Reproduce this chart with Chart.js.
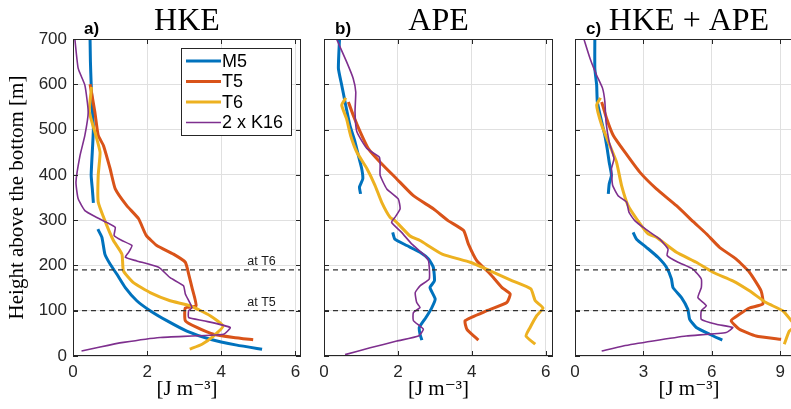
<!DOCTYPE html>
<html>
<head>
<meta charset="utf-8">
<script src="https://cdn.jsdelivr.net/npm/chart.js@4.4.1/dist/chart.umd.min.js"></script>
<style>
  body { margin: 0; background: #fff; overflow: hidden; }
  #wrap { position: relative; width: 791px; height: 409px; overflow: hidden; background: #fff; }
  #wrap canvas { position: absolute; top: 0; }
</style>
</head>
<body>
<div id="wrap">
  <canvas id="hke" width="310" height="409" style="left:0px"></canvas>
  <canvas id="ape" width="250" height="409" style="left:310px"></canvas>
  <canvas id="tot" width="260" height="409" style="left:560px"></canvas>
</div>
<script>
// profiles: [energy J m^-3, height above bottom m], null = gap in the record
const seriesNames = ['M5', 'T5', 'T6', '2 x K16'];
const seriesColors = ['#0072BD', '#D95319', '#EDB120', '#7E2F8E'];
const seriesWidths = [3, 3, 3, 1.6];

const markDepths = [100, 190];
const markNames = ['at T5', 'at T6'];

const yTicks = [0, 100, 200, 300, 400, 500, 600, 700];

// a) HKE
const hkeM5 = [[0.46,700],[0.47,650],[0.49,600],[0.52,550],[0.55,503],[0.53,465],[0.49,399],[0.52,370],[0.55,338], null,
  [0.67,280],[0.78,262],[0.86,225],[1.0,203],[1.18,181],[1.41,151],[1.72,122],[2.08,100],[2.53,78],[3.07,55],[3.70,37],[4.42,24],[5.10,15]];
const hkeT5 = [[0.46,600],[0.59,539],[0.68,487],[0.82,465],[1.0,414],[1.14,369],[1.45,332],[1.77,303],[1.97,267],[2.26,244],
  [2.71,225],[3.03,207],[3.12,181],[3.21,151],[3.32,111],[3.03,106],[3.03,78],[3.34,63],[3.79,48],[4.33,41],[4.86,36]];
const hkeT6 = [[0.50,594],[0.44,539],[0.59,495],[0.73,450],[0.68,399],[0.68,340],[0.86,299],[1.09,255],[1.32,225],[1.36,188],
  [1.63,162],[2.08,140],[2.62,122],[3.16,111],[3.70,89],[4.05,66],[3.79,44],[3.48,26],[3.15,15]];
const hkeK16 = [[0.05,700],[0.14,635],[0.32,598],[0.41,539],[0.32,487],[0.19,443],[0.08,384],[0.14,347],[0.32,321],[0.64,306],
  [0.91,295],[1.14,284],[1.11,266],[1.32,255],[1.59,244],[1.50,229],[1.41,218],[1.72,210],[2.31,196],[2.62,173],[2.98,155],
  [3.03,137],[3.21,107],[3.12,100],[3.12,85],[3.52,78],[4.24,63],[4.06,48],[2.35,41],[1.36,30],[0.73,20],[0.23,11]];

// b) APE
const apeM5 = [[0.42,700],[0.39,635],[0.48,598],[0.57,561],[0.70,510],[0.84,473],[0.93,443],[1.02,414],[1.05,391],[0.96,373],[0.99,358], null,
  [1.86,273],[1.92,258],[2.24,244],[2.60,229],[2.83,214],[2.96,196],[2.99,166],[2.87,151],[3.01,126],[2.92,107],[2.76,85],[2.58,63],[2.60,48],[2.65,35]];
const apeT5 = [[0.66,561],[0.79,532],[0.98,495],[1.20,458],[1.52,428],[1.97,391],[2.42,354],[2.96,325],[3.36,299],[3.78,277],
  [3.91,247],[4.14,210],[4.50,181],[4.82,151],[5.04,137],[4.95,118],[4.41,100],[3.82,78],[3.87,59],[4.18,35]];
const apeT6 = [[0.59,570],[0.48,554],[0.61,524],[0.72,487],[0.89,450],[1.16,414],[1.38,377],[1.56,340],[1.79,306],[1.92,299],
  [2.33,265],[2.60,255],[3.20,225],[3.96,207],[4.50,188],[5.10,166],[5.60,148],[5.72,122],[5.93,106],[5.76,89],[5.58,63],[5.47,44],[5.72,26]];
const apeK16 = [[0.34,700],[0.61,650],[0.79,613],[0.86,583],[0.84,539],[0.89,495],[1.16,458],[1.50,439],[1.52,421],[1.52,399],
  [1.70,369],[2.01,347],[2.06,325],[1.92,306],[1.83,295],[2.10,273],[2.38,247],[2.69,225],[2.83,210],[2.85,170],[2.60,155],
  [2.47,140],[2.51,118],[2.60,107],[2.42,96],[2.42,78],[2.69,59],[2.56,44],[1.97,33],[1.25,18],[0.57,3]];

// c) HKE + APE
const totM5 = [[0.87,700],[0.87,635],[0.95,598],[0.98,561],[1.17,517],[1.31,487],[1.41,458],[1.50,428],[1.60,399],[1.50,380],[1.46,358], null,
  [2.55,273],[2.70,258],[3.13,240],[3.64,218],[4.01,196],[4.23,170],[4.30,151],[4.67,129],[4.95,103],[5.03,81],[5.32,63],[5.90,48],[6.46,35]];
const totT5 = [[1.17,561],[1.39,524],[1.68,487],[2.19,450],[2.84,406],[3.57,369],[4.45,332],[5.20,296],[5.76,270],[6.34,240],
  [7.07,214],[7.65,185],[8.16,144],[8.24,115],[7.65,106],[7.21,92],[6.85,78],[7.21,59],[7.94,44],[9.04,37]];
const totT6 = [[1.12,570],[0.95,554],[1.17,510],[1.46,473],[1.82,428],[2.04,377],[2.33,332],[2.70,303],[3.20,270],[3.57,262],
  [4.45,229],[5.32,207],[6.05,185],[6.92,166],[7.65,144],[8.38,118],[9.11,100],[9.44,81],[9.65,66],[9.40,55],[9.18,26]];
const totK16 = [[0.39,700],[0.66,657],[0.95,620],[1.21,591],[1.31,561],[1.36,517],[1.50,473],[1.71,436],[1.60,414],[1.65,377],
  [1.89,354],[2.26,340],[2.37,317],[2.62,299],[3.10,280],[3.72,258],[4.08,236],[4.04,222],[4.52,207],[5.17,192],[5.54,170],
  [5.54,151],[5.39,129],[5.76,111],[5.54,100],[5.54,81],[6.20,70],[6.92,63],[6.63,52],[4.88,44],[3.42,33],[2.11,22],[1.17,11]];

const axisColor = '#262626';
const gridColor = '#e0e0e0';

function toPoints(arr) {
  return arr.map(p => p ? { x: p[0], y: p[1] } : { x: null, y: null });
}

// box, inward ticks, title, panel letter, legend and depth labels
const panelDecor = {
  id: 'panelDecor',
  afterDraw(chart, args, opts) {
    const ctx = chart.ctx;
    const a = chart.chartArea;
    const xs = chart.scales.x, ys = chart.scales.y;
    ctx.save();
    ctx.strokeStyle = axisColor;
    ctx.lineWidth = 1;
    ctx.strokeRect(a.left + 0.5, a.top + 0.5, a.right - a.left - 1, a.bottom - a.top - 1);
    ctx.beginPath();
    xs.ticks.forEach(t => {
      const px = Math.round(xs.getPixelForValue(t.value)) + 0.5;
      ctx.moveTo(px, a.bottom); ctx.lineTo(px, a.bottom - 5);
      ctx.moveTo(px, a.top); ctx.lineTo(px, a.top + 5);
    });
    ys.ticks.forEach(t => {
      const py = Math.round(ys.getPixelForValue(t.value)) + 0.5;
      ctx.moveTo(a.left, py); ctx.lineTo(a.left + 5, py);
      ctx.moveTo(a.right, py); ctx.lineTo(a.right - 5, py);
    });
    ctx.stroke();

    // title
    ctx.fillStyle = '#000';
    ctx.font = '32px "Liberation Serif", "DejaVu Serif", serif';
    ctx.textAlign = 'center';
    ctx.textBaseline = 'alphabetic';
    ctx.fillText(opts.title, (a.left + a.right) / 2, 30);

    // panel letter
    ctx.font = 'bold 17px "Liberation Sans", Arial, sans-serif';
    ctx.textAlign = 'left';
    ctx.fillText(opts.tag, a.left + 11, 34);

    if (opts.marks) {
      ctx.font = '12.5px "Liberation Sans", Arial, sans-serif';
      ctx.fillStyle = '#1a1a1a';
      markDepths.forEach((d, i) => {
        ctx.fillText(markNames[i], xs.getPixelForValue(4.7), ys.getPixelForValue(d) - 5);
      });
    }

    if (opts.legend) {
      const bx = a.right - 120, by = a.top + 9, bw = 110, bh = 87;
      ctx.fillStyle = '#fff';
      ctx.fillRect(bx, by, bw, bh);
      ctx.strokeStyle = axisColor;
      ctx.strokeRect(bx + 0.5, by + 0.5, bw, bh);
      ctx.font = '18px "Liberation Sans", Arial, sans-serif';
      ctx.textBaseline = 'middle';
      seriesNames.forEach((name, i) => {
        const ly = by + 13 + i * 20.5;
        ctx.strokeStyle = seriesColors[i];
        ctx.lineWidth = seriesWidths[i];
        ctx.beginPath();
        ctx.moveTo(bx + 5, ly); ctx.lineTo(bx + 40, ly);
        ctx.stroke();
        ctx.fillStyle = '#000';
        ctx.fillText(name, bx + 41, ly + 1);
      });
    }
    ctx.restore();
  }
};

function makePanel(id, profiles, cfg) {
  const datasets = profiles.map((prof, i) => ({
    label: seriesNames[i],
    data: toPoints(prof),
    borderColor: seriesColors[i],
    backgroundColor: seriesColors[i],
    borderWidth: seriesWidths[i],
    showLine: true,
    pointRadius: 0,
    tension: 0.15,
    spanGaps: false,
    order: 4 - i
  }));
  markDepths.forEach(d => {
    datasets.push({
      label: 'depth ' + d,
      data: [{ x: 0, y: d }, { x: cfg.xMax, y: d }],
      borderColor: '#333',
      borderWidth: 1.2,
      borderDash: [5, 4],
      showLine: true,
      pointRadius: 0,
      order: 0
    });
  });

  const ctx = document.getElementById(id).getContext('2d');
  return new Chart(ctx, {
    type: 'scatter',
    data: { datasets },
    plugins: [panelDecor],
    options: {
      responsive: false,
      animation: false,
      layout: { padding: { top: 39, right: cfg.padRight, bottom: 0, left: 0 } },
      plugins: {
        legend: { display: false },
        tooltip: { enabled: false },
        panelDecor: { title: cfg.title, tag: cfg.tag, legend: cfg.legend, marks: cfg.marks }
      },
      scales: {
        x: {
          type: 'linear',
          min: 0,
          max: cfg.xMax,
          ticks: {
            stepSize: cfg.xStep,
            includeBounds: false,
            padding: 6,
            maxRotation: 0,
            color: axisColor,
            font: { family: '"Liberation Sans", Arial, sans-serif', size: 17 }
          },
          grid: { color: gridColor, drawTicks: false },
          border: { display: false },
          title: {
            display: true,
            text: '[J m\u207B\u00B3]',
            color: '#000',
            font: { family: '"Liberation Serif", "DejaVu Serif", serif', size: 21 },
            padding: { top: 0, bottom: 7 }
          },
          afterFit: s => { s.height = 53; }
        },
        y: {
          type: 'linear',
          min: 0,
          max: 700,
          afterBuildTicks: s => { s.ticks = yTicks.map(v => ({ value: v })); },
          ticks: {
            display: cfg.yLabels,
            padding: 6,
            color: axisColor,
            font: { family: '"Liberation Sans", Arial, sans-serif', size: 17 }
          },
          grid: { color: gridColor, drawTicks: false },
          border: { display: false },
          title: {
            display: cfg.yLabels,
            text: 'Height above the bottom [m]',
            color: '#000',
            font: { family: '"Liberation Serif", "DejaVu Serif", serif', size: 21 },
            padding: { top: 5, bottom: 0 }
          },
          afterFit: s => { s.width = cfg.yWidth; }
        }
      }
    }
  });
}

makePanel('hke', [hkeM5, hkeT5, hkeT6, hkeK16],
  { xMax: 6.15, xStep: 2, title: 'HKE', tag: 'a)', legend: true, marks: true, yLabels: true, yWidth: 73, padRight: 9 });
makePanel('ape', [apeM5, apeT5, apeT6, apeK16],
  { xMax: 6.2, xStep: 2, title: 'APE', tag: 'b)', legend: false, marks: false, yLabels: false, yWidth: 14, padRight: 7 });
makePanel('tot', [totM5, totT5, totT6, totK16],
  { xMax: 10, xStep: 3, title: 'HKE + APE', tag: 'c)', legend: false, marks: false, yLabels: false, yWidth: 15, padRight: 17 });
</script>
</body>
</html>
